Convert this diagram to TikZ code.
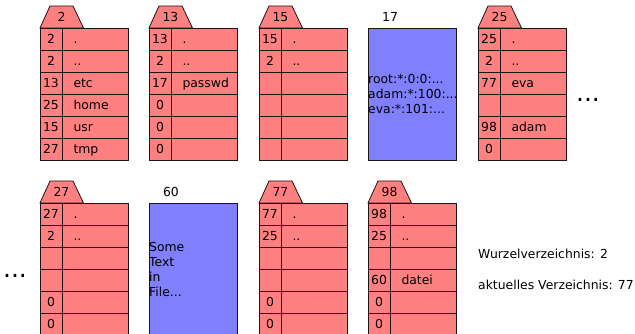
\documentclass[tikz,border=0pt]{standalone}
\usepackage{fontspec}
\setmainfont{DejaVu Sans}
\definecolor{cellred}{RGB}{255,128,128}
\definecolor{fileblue}{RGB}{128,128,255}
\definecolor{edge}{RGB}{30,20,20}
\tikzset{
  txt/.style={font=\fontsize{12.4}{15}\selectfont, inner sep=0pt},
  numcell/.style={draw=edge, line width=0.8pt, fill=cellred, minimum width=22pt, minimum height=22pt,
    inner sep=0pt, text height=9.2pt, text depth=0pt, font=\fontsize{12.4}{15}\selectfont},
  namecell/.style={draw=edge, line width=0.8pt, fill=cellred, minimum width=66pt, minimum height=22pt,
    inner xsep=3pt, inner ysep=0pt, text width=60pt, align=left, text height=9.2pt, text depth=0pt,
    font=\fontsize{12.4}{15}\selectfont},
  tabshape/.style={draw=edge, line width=0.8pt, fill=cellred, line join=miter},
  filebox/.style={draw=edge, line width=0.8pt, fill=fileblue, minimum width=88pt, minimum height=132pt, inner sep=0pt},
  filetext/.style={font=\fontsize{12.4}{15}\selectfont, align=left, inner sep=0pt, anchor=west},
  dots/.style={font=\fontsize{25}{25}\selectfont, inner sep=0pt, anchor=base}
}
% #1 id, #2 x, #3 top of table, #4 label, #5 entries
\newcommand\DirBlock[5]{%
  \draw[tabshape] (#2,#3) -- (#2+10,#3-22) -- (#2+33,#3-22) -- (#2+43.5,#3) -- cycle;
  \node[txt] (#1-tab) at (#2+21.5,#3-11) {#4};
  \foreach \nn/\ff [count=\i] in {#5} {
    \node[numcell] (#1-n\i) at (#2+11,#3+22*\i-11) {\nn};
    \node[namecell] (#1-f\i) at (#2+55,#3+22*\i-11) {\hspace*{8.5pt}\ff};
  }
}
% #1 id, #2 x, #3 top, #4 label, #5 text
\newcommand\FileBlock[5]{%
  \node[txt] (#1-lbl) at (#2+22,#3-11) {#4};
  \node[filebox, anchor=north west] (#1-box) at (#2,#3) {};
  \node[filetext] (#1-txt) at (#1-box.west) {#5};
}
\begin{document}
\begin{tikzpicture}[x=1pt,y=-1pt]
\useasboundingbox (0,0) rectangle (635,334);
% row 1
\DirBlock{d2}{40}{28}{2}{2/{.}, 2/{..}, 13/etc, 25/home, 15/usr, 27/tmp}
\DirBlock{d13}{149}{28}{13}{13/{.}, 2/{..}, 17/passwd, 0/{}, 0/{}, 0/{}}
\DirBlock{d15}{259}{28}{15}{15/{.}, 2/{..}, {}/{}, {}/{}, {}/{}, {}/{}}
\FileBlock{f17}{368}{28}{17}{root:*:0:0:...\\adam:*:100:...\\eva:*:101:...}
\DirBlock{d25}{478}{28}{25}{25/{.}, 2/{..}, 77/eva, {}/{}, 98/adam, 0/{}}
\node[dots] (dotsA) at (588,101.7) {...};
% row 2
\DirBlock{d27}{40}{203}{27}{27/{.}, 2/{..}, {}/{}, {}/{}, 0/{}, 0/{}}
\FileBlock{f60}{149}{203}{60}{Some\\Text\\in\\File...}
\DirBlock{d77}{259}{203}{77}{77/{.}, 25/{..}, {}/{}, {}/{}, 0/{}, 0/{}}
\DirBlock{d98}{368}{203}{98}{98/{.}, 25/{..}, {}/{}, 60/datei, 0/{}, 0/{}}
\node[dots] (dotsB) at (15,277.7) {...};
\node[txt, anchor=base west] (root) at (478,258.3) {Wurzelverzeichnis: 2};
\node[txt, anchor=base west] (cwd) at (478,289) {aktuelles Verzeichnis: 77};
\end{tikzpicture}
\end{document}
